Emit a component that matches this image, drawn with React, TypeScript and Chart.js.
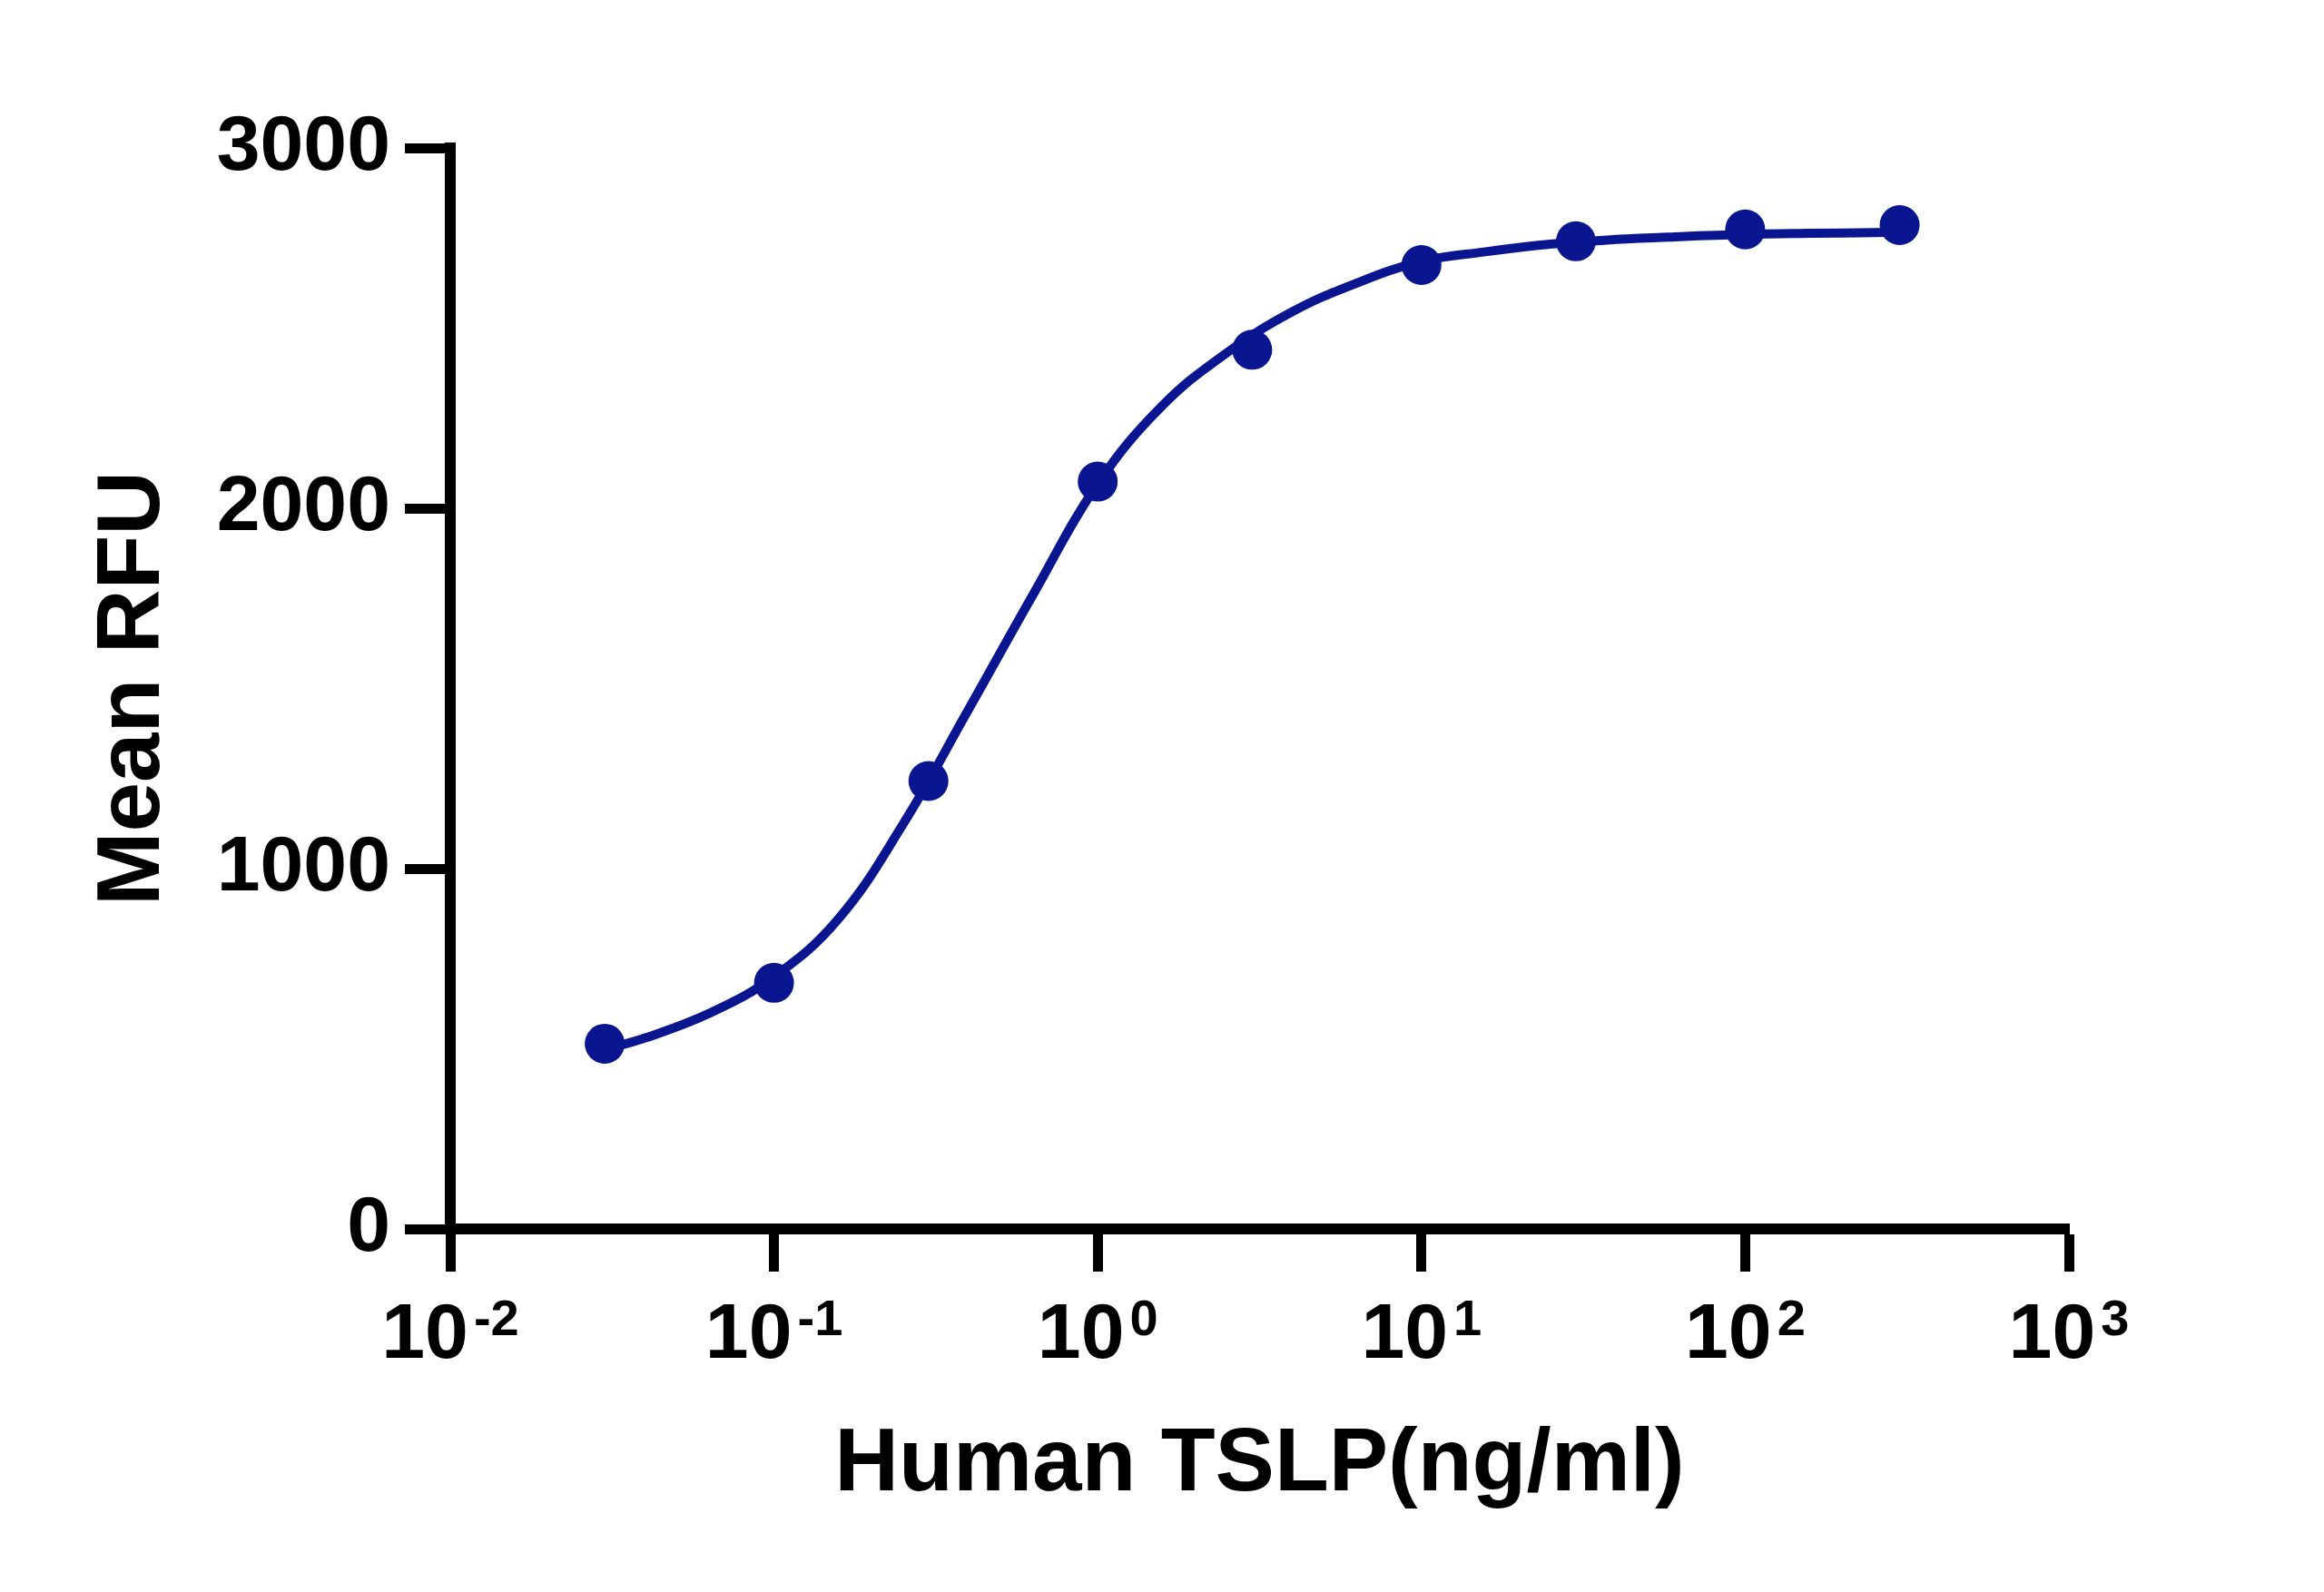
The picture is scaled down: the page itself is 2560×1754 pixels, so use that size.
import React, { useEffect, useRef } from "react";
import { Chart, registerables } from "chart.js";

Chart.register(...registerables);

// measured points (ng/ml vs mean RFU)
const doseValues = [0.03, 0.1, 0.3, 1, 3, 10, 30, 100, 300];
const rfuValues = [514, 683, 1243, 2074, 2440, 2675, 2741, 2774, 2786];

// fitted curve
const curveDose = [0.03, 0.04, 0.063, 0.1, 0.158, 0.251, 0.398, 0.631, 1, 1.585, 2.51, 3.98, 6.31, 10, 15.8, 25, 39.8, 63, 100, 158, 251, 300];
const curveRfu = [498, 530, 598, 700, 860, 1125, 1440, 1760, 2068, 2285, 2432, 2545, 2625, 2685, 2712, 2733, 2746, 2754, 2760, 2763, 2765, 2766];

const xTickValues = [0.01, 0.1, 1, 10, 100, 1000];
const yTickValues = [0, 1000, 2000, 3000];

const NAVY = "#0a1690";
const FONT = "'Liberation Sans', Arial, Helvetica, sans-serif";

const powerLabels = {
  id: "powerLabels",
  afterDraw(chart: Chart) {
    const ctx = chart.ctx;
    const scale = chart.scales.x;
    ctx.save();
    ctx.fillStyle = "#000";
    ctx.textBaseline = "alphabetic";
    ctx.textAlign = "left";
    xTickValues.forEach((v) => {
      const exp = Math.round(Math.log10(v));
      const base = "10";
      const sup = exp < 0 ? "-" + Math.abs(exp) : String(exp);
      ctx.font = `bold 86px ${FONT}`;
      const w1 = ctx.measureText(base).width;
      ctx.font = `bold 56px ${FONT}`;
      const w2 = ctx.measureText(sup).width;
      const gap = 6;
      const x0 = scale.getPixelForValue(v) - (w1 + gap + w2) / 2;
      ctx.font = `bold 86px ${FONT}`;
      ctx.fillText(base, x0, 1496);
      ctx.font = `bold 56px ${FONT}`;
      ctx.fillText(sup, x0 + w1 + gap, 1471);
    });
    ctx.restore();
  },
};

const DoseResponseChart: React.FC = () => {
  const chartRef = useRef<HTMLCanvasElement | null>(null);
  const chartInstance = useRef<Chart | null>(null);

  useEffect(() => {
    document.body.style.margin = "0";
    if (!chartRef.current) return;
    if (chartInstance.current) chartInstance.current.destroy();
    const ctx = chartRef.current.getContext("2d");
    if (!ctx) return;

    chartInstance.current = new Chart(ctx, {
      type: "scatter",
      data: {
        datasets: [
          {
            label: "Mean RFU",
            data: doseValues.map((x, i) => ({ x, y: rfuValues[i] })),
            backgroundColor: NAVY,
            borderColor: NAVY,
            pointRadius: 22,
            pointBorderWidth: 0,
            showLine: false,
            order: 0,
          },
          {
            label: "Fit",
            data: curveDose.map((x, i) => ({ x, y: curveRfu[i] })),
            borderColor: NAVY,
            backgroundColor: NAVY,
            borderWidth: 10,
            pointRadius: 0,
            showLine: true,
            tension: 0.4,
            order: 1,
          },
        ],
      },
      options: {
        responsive: false,
        animation: false,
        events: [],
        layout: {
          padding: { left: 0, top: 163, right: 281, bottom: 0 },
        },
        plugins: {
          legend: { display: false },
          tooltip: { enabled: false },
        },
        scales: {
          x: {
            type: "logarithmic",
            min: 0.01,
            max: 1000,
            afterBuildTicks: (scale: any) => {
              scale.ticks = xTickValues.map((v) => ({ value: v }));
            },
            afterFit: (scale: any) => {
              scale.height = 400;
            },
            grid: {
              drawOnChartArea: false,
              drawTicks: true,
              tickLength: 47,
              tickWidth: 11,
              tickColor: "#000",
            },
            border: { display: true, color: "#000", width: 12 },
            ticks: { display: false },
            title: {
              display: true,
              text: "Human TSLP(ng/ml)",
              color: "#000",
              font: { family: FONT, size: 98, weight: "bold" },
              padding: { top: 0, bottom: 80 },
            },
          },
          y: {
            type: "linear",
            min: 0,
            max: 3000,
            afterBuildTicks: (scale: any) => {
              scale.ticks = yTickValues.map((v) => ({ value: v }));
            },
            afterFit: (scale: any) => {
              scale.width = 496;
            },
            grid: {
              drawOnChartArea: false,
              drawTicks: true,
              tickLength: 50,
              tickWidth: 11,
              tickColor: "#000",
            },
            border: { display: true, color: "#000", width: 12 },
            ticks: {
              color: "#000",
              padding: 16,
              font: { family: FONT, size: 86, weight: "bold" },
              callback: (value: any) => String(value),
            },
            title: {
              display: true,
              text: "Mean RFU",
              color: "#000",
              font: { family: FONT, size: 98, weight: "bold" },
              padding: { top: 89, bottom: 0 },
            },
          },
        },
      },
      plugins: [powerLabels],
    });

    return () => {
      if (chartInstance.current) {
        chartInstance.current.destroy();
        chartInstance.current = null;
      }
    };
  }, []);

  return (
    <div style={{ width: 2560, height: 1754, background: "#fff" }}>
      <canvas ref={chartRef} width={2560} height={1754}></canvas>
    </div>
  );
};

export default function App() {
  return <DoseResponseChart />;
}
